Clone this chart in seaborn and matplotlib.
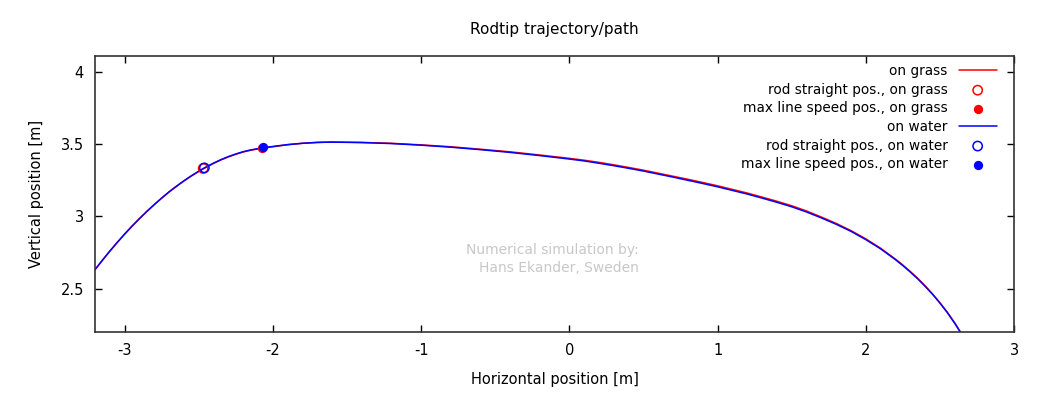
import numpy as np
import pandas as pd
import matplotlib
matplotlib.use("Agg")
import matplotlib.pyplot as plt
import seaborn as sns

# Rodtip path
x_path = [-3.2, -3.15, -3.1, -3.05, -3.0, -2.95, -2.9, -2.85, -2.8, -2.75, -2.7,
          -2.65, -2.6, -2.55, -2.5, -2.465, -2.4, -2.35, -2.3, -2.25, -2.2, -2.15,
          -2.1, -2.067, -2.0, -1.9, -1.8, -1.7, -1.6, -1.4, -1.2, -1.0, -0.8, -0.6,
          -0.4, -0.2, 0.0, 0.1, 0.2, 0.3, 0.4, 0.5, 0.6, 0.7, 0.8, 0.9, 1.0, 1.1,
          1.2, 1.3, 1.4, 1.5, 1.6, 1.7, 1.8, 1.9, 2.0, 2.1, 2.2, 2.25, 2.3, 2.35,
          2.4, 2.45, 2.5, 2.55, 2.6, 2.64]
y_water = [2.632, 2.697, 2.760, 2.820, 2.878, 2.933, 2.985, 3.035, 3.082, 3.127, 3.170,
           3.209, 3.246, 3.281, 3.313, 3.334, 3.369, 3.393, 3.414, 3.432, 3.448, 3.460,
           3.469, 3.475, 3.484, 3.497, 3.506, 3.512, 3.514, 3.511, 3.504, 3.493, 3.479, 3.462,
           3.443, 3.421, 3.397, 3.384, 3.368, 3.351, 3.333, 3.314, 3.293, 3.272, 3.250, 3.228, 3.205, 3.180,
           3.155, 3.127, 3.098, 3.067, 3.031, 2.990, 2.946, 2.897, 2.840, 2.776, 2.701, 2.660, 2.616, 2.569,
           2.517, 2.462, 2.401, 2.335, 2.261, 2.196]
y_grass = [2.632, 2.697, 2.760, 2.820, 2.878, 2.933, 2.985, 3.035, 3.082, 3.127, 3.170,
           3.209, 3.246, 3.280, 3.311, 3.332, 3.367, 3.391, 3.412, 3.430, 3.446, 3.458,
           3.467, 3.473, 3.482, 3.496, 3.506, 3.512, 3.515, 3.512, 3.506, 3.495, 3.482, 3.465,
           3.447, 3.425, 3.402, 3.389, 3.374, 3.357, 3.339, 3.320, 3.299, 3.278, 3.257, 3.235, 3.212, 3.187,
           3.162, 3.134, 3.105, 3.074, 3.038, 2.996, 2.952, 2.902, 2.845, 2.780, 2.705, 2.664, 2.619, 2.572,
           2.520, 2.464, 2.403, 2.337, 2.263, 2.198]

# special positions (x, y)
straight_grass = (-2.47, 3.332)
speed_grass = (-2.07, 3.471)
straight_water = (-2.462, 3.336)
speed_water = (-2.067, 3.477)

sns.set_theme(style="white")
plt.rcParams["font.family"] = ["DejaVu Sans"]
plt.rcParams.update({"text.color": "black", "axes.labelcolor": "black",
                     "xtick.color": "black", "ytick.color": "black"})

fig = plt.figure(figsize=(10.39, 3.94), dpi=100)
ax = fig.add_axes([0.0914, 0.157, 0.8846, 0.701])

grass = pd.DataFrame({"x": x_path, "y": y_grass})
water = pd.DataFrame({"x": x_path, "y": y_water})

sns.lineplot(data=grass, x="x", y="y", sort=False, color="#ff0000", lw=1.1,
             label="on grass", ax=ax)
sns.scatterplot(x=[straight_grass[0]], y=[straight_grass[1]], s=45, marker="o",
                facecolors="none", edgecolors="#ff0000", linewidths=1.1,
                label="rod straight pos., on grass", ax=ax, zorder=5)
sns.scatterplot(x=[speed_grass[0]], y=[speed_grass[1]], s=45, marker="o",
                color="#ff0000", edgecolor="#ff0000", linewidth=0,
                label="max line speed pos., on grass", ax=ax, zorder=5)
sns.lineplot(data=water, x="x", y="y", sort=False, color="#0000ff", lw=1.1,
             label="on water", ax=ax)
sns.scatterplot(x=[straight_water[0]], y=[straight_water[1]], s=45, marker="o",
                facecolors="none", edgecolors="#0000ff", linewidths=1.1,
                label="rod straight pos., on water", ax=ax, zorder=6)
sns.scatterplot(x=[speed_water[0]], y=[speed_water[1]], s=45, marker="o",
                color="#0000ff", edgecolor="#0000ff", linewidth=0,
                label="max line speed pos., on water", ax=ax, zorder=6)

ax.set_xlim(-3.2, 3.0)
ax.set_ylim(2.2, 4.11)
ax.set_xticks([-3, -2, -1, 0, 1, 2, 3])
ax.set_xticklabels(["-3", "-2", "-1", "0", "1", "2", "3"])
ax.set_yticks([2.5, 3, 3.5, 4])
ax.set_yticklabels(["2.5", "3", "3.5", "4"])
ax.tick_params(direction="in", length=5, width=1, color="black", labelsize=10.5,
               top=True, right=True, bottom=True, left=True, pad=8)

for sp in ax.spines.values():
    sp.set_color("#333333")
    sp.set_linewidth(1.2)

ax.set_xlabel("Horizontal position [m]", fontsize=10.5, labelpad=10)
ax.set_ylabel("Vertical position [m]", fontsize=10.5, labelpad=12)
ax.set_title("Rodtip trajectory/path", fontsize=11, pad=16)

ax.text(0.47, 2.815, "Numerical simulation by:\nHans Ekander, Sweden",
        ha="right", va="top", color="#c8c8c8", fontsize=10, multialignment="right",
        linespacing=1.35)

handles, labels = ax.get_legend_handles_labels()
ax.legend(handles, labels, loc="upper right", frameon=False, markerfirst=False,
          fontsize=9.8, handlelength=2.8, handletextpad=0.8, labelspacing=0.34,
          borderaxespad=0.2, bbox_to_anchor=(0.99, 1.0))

fig.savefig("out.png", dpi=100)
